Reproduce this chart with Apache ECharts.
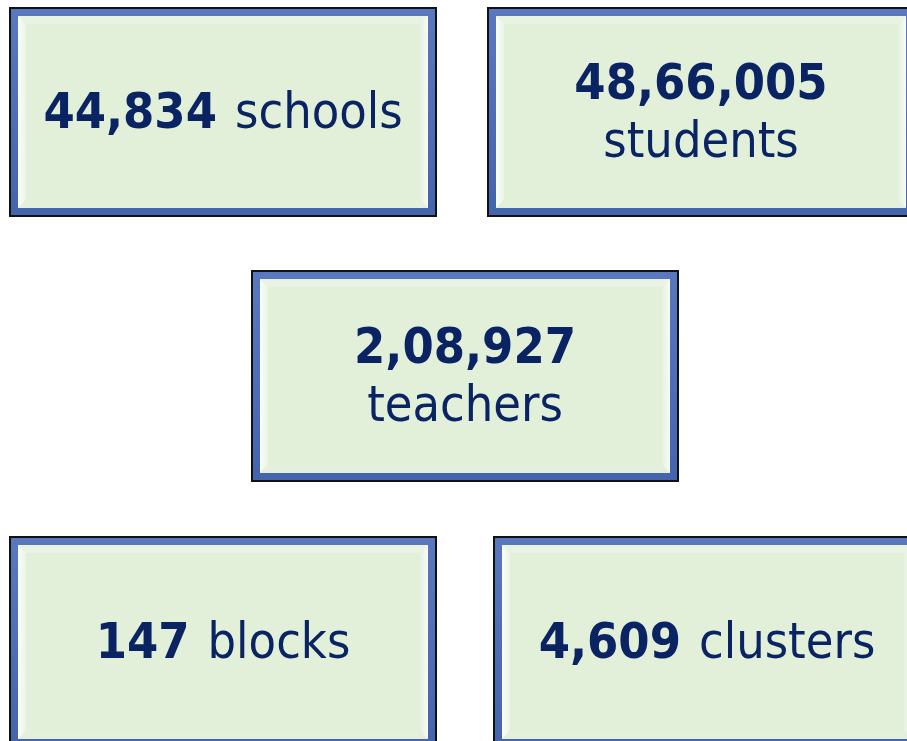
<!DOCTYPE html>
<html>
<head>
<meta charset="UTF-8" />
<script src="https://cdn.jsdelivr.net/npm/echarts@6/dist/echarts.min.js"></script>
<style>
  html, body { margin: 0; padding: 0; background: #fff; }
  #chart { width: 907px; height: 741px; }
</style>
</head>
<body>
<div id="chart"></div>
<script>
// figures shown in each box
const numbers = ['44,834', '48,66,005', '2,08,927', '147', '4,609'];
const words = ['schools', 'students', 'teachers', 'blocks', 'clusters'];
const twoLine = [false, true, true, false, false];

// box frames [x, y, w, h]
const boxes = [
  [9, 7, 428, 210],
  [487, 7, 428, 210],
  [251, 270, 428, 212],
  [9, 536, 428, 212],
  [493, 536, 428, 212]
];

const FONT = '"DejaVu Sans Condensed", "DejaVu Sans", sans-serif';
const GREEN = '#e2efd9';
const NAVY = '#0a2463';

function boxGraphics(b, i) {
  const [x, y, w, h] = b;
  const f = 9;   // black + blue frame
  const bv = 8;  // inner bevel
  const ix = x + f, iy = y + f, iw = w - 2 * f, ih = h - 2 * f;
  const els = [
    { type: 'rect', shape: { x: x, y: y, width: w, height: h }, style: { fill: '#111' } },
    { type: 'rect', shape: { x: x + 2, y: y + 2, width: w - 4, height: h - 4 },
      style: { fill: new echarts.graphic.LinearGradient(0, 0, 0, 1, [
        { offset: 0, color: '#5a78c0' }, { offset: 1, color: '#4564ae' }]) } },
    { type: 'rect', shape: { x: ix, y: iy, width: iw, height: ih }, style: { fill: GREEN } },
    // left bevel
    { type: 'polygon', shape: { points: [[ix, iy], [ix + bv, iy + bv], [ix + bv, iy + ih - bv], [ix, iy + ih]] },
      style: { fill: new echarts.graphic.LinearGradient(0, 0, 1, 0, [
        { offset: 0, color: '#fbfdf9' }, { offset: 1, color: '#eaf4e4' }]) } },
    // top bevel
    { type: 'polygon', shape: { points: [[ix, iy], [ix + iw, iy], [ix + iw - bv, iy + bv], [ix + bv, iy + bv]] },
      style: { fill: '#e9f3e3' } },
    // right bevel
    { type: 'polygon', shape: { points: [[ix + iw, iy], [ix + iw, iy + ih], [ix + iw - bv, iy + ih - bv], [ix + iw - bv, iy + bv]] },
      style: { fill: new echarts.graphic.LinearGradient(0, 0, 1, 0, [
        { offset: 0, color: '#e6f1df' }, { offset: 1, color: '#f8fbf5' }]) } },
    // bottom bevel
    { type: 'polygon', shape: { points: [[ix, iy + ih], [ix + bv, iy + ih - bv], [ix + iw - bv, iy + ih - bv], [ix + iw, iy + ih]] },
      style: { fill: '#e4f0dc' } }
  ];
  const txt = twoLine[i]
    ? '{b|' + numbers[i] + '}\n{r|' + words[i] + '}'
    : '{b|' + numbers[i] + '}{s|' + words[i] + '}';
  els.push({
    type: 'text',
    x: x + w / 2,
    y: y + h / 2 + 3,
    style: {
      text: txt,
      align: 'center',
      verticalAlign: 'middle',
      rich: {
        b: { fontFamily: FONT, fontWeight: 'bold', fontSize: 50, lineHeight: 58, fill: NAVY },
        r: { fontFamily: FONT, fontWeight: 'normal', fontSize: 50, lineHeight: 58, fill: NAVY },
        s: { fontFamily: FONT, fontWeight: 'normal', fontSize: 50, lineHeight: 58, fill: NAVY, padding: [0, 0, 0, 18] }
      }
    }
  });
  return els;
}

const chart = echarts.init(document.getElementById('chart'), null, { renderer: 'canvas' });
let elements = [];
boxes.forEach((b, i) => { elements = elements.concat(boxGraphics(b, i)); });
chart.setOption({
  animation: false,
  graphic: { elements: elements }
});
</script>
</body>
</html>
